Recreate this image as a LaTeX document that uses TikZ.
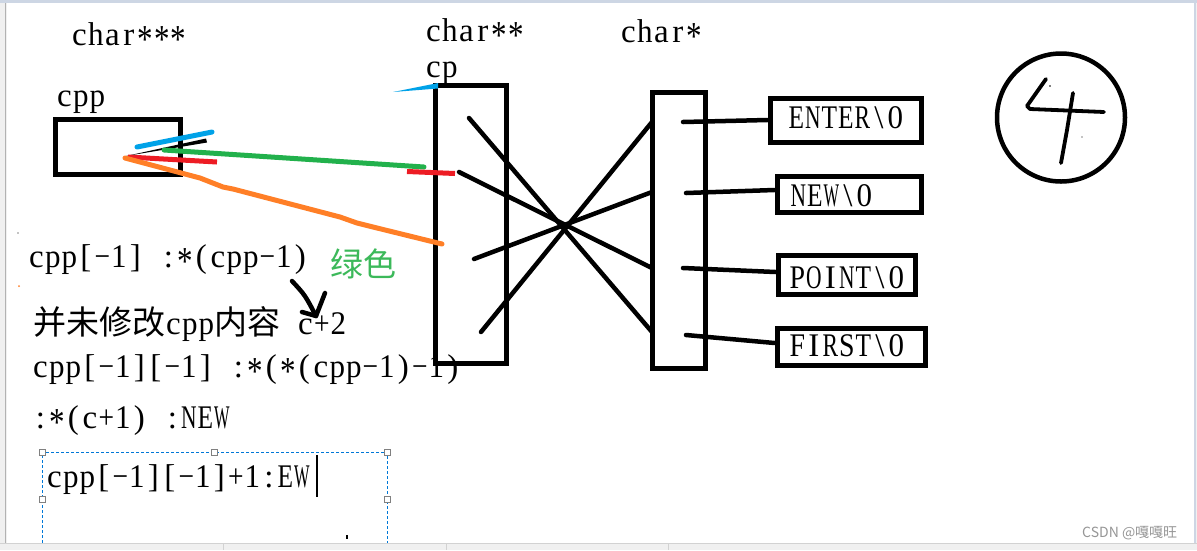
\documentclass[tikz,border=0pt]{standalone}
\usepackage{fontspec}
\usepackage{graphicx}
\setmainfont{Liberation Serif}
\newfontfamily\cjk{Noto Sans CJK SC}
\newsavebox\glyphbox
\newcommand\onech[1]{\sbox\glyphbox{#1}\makebox[0.5em][c]{\ifdim\wd\glyphbox>0.47em\relax\resizebox{0.47em}{\height}{#1}\else#1\fi}}
\def\monoloop#1{\ifx\relax#1\else\onech{#1}\expandafter\monoloop\fi}
\newcommand\mono[1]{\monoloop#1\relax}
\newcommand\astk{\raisebox{-0.22em}{\scalebox{1.2}{*}}}
\newcommand\bigtxt{\fontsize{33}{40}\selectfont}
\definecolor{pgreen}{RGB}{34,177,76}
\definecolor{pred}{RGB}{237,28,36}
\definecolor{porange}{RGB}{255,127,39}
\definecolor{pblue}{RGB}{0,162,232}
\definecolor{txtgreen}{RGB}{60,185,90}
\definecolor{selblue}{RGB}{0,120,215}
\definecolor{chrome}{RGB}{240,240,240}
\definecolor{frameblue}{RGB}{205,214,228}
\definecolor{wmgray}{RGB}{150,150,150}
\tikzset{
  lbl/.style={inner sep=0pt, anchor=base west, font=\bigtxt},
  box/.style={draw, line width=5pt, rectangle, inner sep=0pt},
  stroke/.style={line width=4.5pt, line cap=round, line join=round},
  cstroke/.style={line width=5pt, line cap=round, line join=round},
  handle/.style={draw=gray, fill=white, line width=0.8pt, minimum size=6pt, inner sep=0pt, rectangle},
}
\begin{document}
\begin{tikzpicture}[x=1pt,y=-1pt]
\useasboundingbox (0,0) rectangle (1197,550);
% window chrome
\fill[chrome] (0,0) rectangle (1197,550);
\fill[white] (7,3) rectangle (1194,543);
\fill[frameblue] (0,0) rectangle (1197,3);
\draw[gray!60, line width=1.2pt] (5.5,3) -- (5.5,543);
\draw[frameblue, line width=2pt] (1195,3) -- (1195,543);
\draw[gray!35, line width=1pt] (0,543.5) -- (1197,543.5);
\foreach \xx in {223,446,668} \draw[gray!35, line width=1pt] (\xx,544) -- (\xx,550);

% labels at top
\node[lbl] (t3) at (71,45) {\mono{char{\astk}{\astk}{\astk}}};
\node[lbl] (tcpp) at (56,106) {\mono{cpp}};
\node[lbl] (t2) at (425,41) {\mono{char{\astk}{\astk}}};
\node[lbl] (tcp) at (425,77) {\mono{cp}};
\node[lbl] (t1) at (620,42) {\mono{char{\astk}}};

% boxes
\node[box, minimum width=125pt, minimum height=55pt] (cppbox) at (117.5,146.5) {};
\node[box, minimum width=70.5pt, minimum height=278pt] (cpbox) at (470.75,224.5) {};
\node[box, minimum width=53pt, minimum height=276pt] (csbox) at (678.5,230) {};
\node[box, minimum width=151pt, minimum height=44pt] (enter) at (845.5,120) {};
\node[box, minimum width=144pt, minimum height=36pt] (new) at (849,194) {};
\node[box, minimum width=137pt, minimum height=39pt] (point) at (846.5,274.5) {};
\node[box, minimum width=148pt, minimum height=37pt] (first) at (851,346.5) {};

\node[lbl] (enterT) at (788,128) {\mono{ENTER{\textbackslash}0}};
\node[lbl] (newT) at (790,206) {\mono{NEW{\textbackslash}0}};
\node[lbl] (pointT) at (789,288) {\mono{POINT{\textbackslash}0}};
\node[lbl] (firstT) at (789,356) {\mono{FIRST{\textbackslash}0}};

% pointers from char* array to strings
\coordinate (s1) at (683,122);
\coordinate (s2) at (686,193);
\coordinate (s3) at (683,268);
\coordinate (s4) at (686,335);
\draw[stroke] (s1) -- (enter.west);
\draw[stroke] (s2) -- ([yshift=4pt]new.west);
\draw[stroke] (s3) -- ([yshift=2.5pt]point.west);
\draw[stroke] (s4) -- ([yshift=3.5pt]first.west);

% crossing lines from char** array to char* array
\coordinate (a1) at (469,118);
\coordinate (a2) at (459,172);
\coordinate (a3) at (474,259);
\coordinate (a4) at (481,332);
\coordinate (b1) at (652,332);
\coordinate (b2) at (652,268);
\coordinate (b3) at (652,192);
\coordinate (b4) at (652,122);
\draw[stroke] (a1) -- (b1);
\draw[stroke] (a2) -- (b2);
\draw[stroke] (a3) -- (b3);
\draw[stroke] (a4) -- (b4);

% coloured hand strokes
\coordinate (o) at (126,156);
\coordinate (bl1) at (137,147);
\coordinate (bl2) at (212,132);
\draw[cstroke, pblue] (bl1) -- (bl2);
\fill[black] (o) -- (206,138.5) -- (207,142.5) -- cycle;
\coordinate (g1) at (164,150);
\coordinate (g2) at (424,167);
\draw[cstroke, pgreen] (g1) -- (g2);
\coordinate (r1) at (128,157);
\coordinate (r2) at (217,162);
\draw[cstroke, pred, line cap=butt] (r1) -- (r2);
\coordinate (r3) at (407,171.5);
\coordinate (r4) at (455,173.5);
\draw[cstroke, pred, line cap=butt] (r3) -- (r4);
\coordinate (or1) at (125,158);
\coordinate (or2) at (442,244);
\draw[cstroke, porange] (or1) -- (200,178) -- (223,187) -- (233,189) -- (340,217) -- (357,223) -- (373,227) -- (or2);
\coordinate (bw1) at (393,92);
\coordinate (bw2) at (438,83);
\fill[pblue] (bw1) -- (bw2) -- (438,88.5) -- cycle;

% circled 4
\node[circle, draw, line width=4.5pt, minimum size=128pt, inner sep=0pt] (four) at (1061,117.5) {};
\coordinate (f1) at (1046,79);
\coordinate (f2) at (1104,112);
\draw[stroke, line width=3.8pt] (f1) -- (1027,106) -- (1030,109) -- (f2);
\coordinate (k1) at (1073,93);
\coordinate (k2) at (1061,163);
\draw[stroke, line width=3.8pt] (k1) -- (1067,130) -- (k2);
\fill (1050,86) circle (0.8pt);
\fill (1082,137) circle (0.6pt);

% explanatory text
\node[lbl] (l1) at (28,267) {\mono{cpp[−1]~:{\astk}(cpp−1)}};
\node[lbl, text=txtgreen] (green) at (330,276) {\cjk 绿色};
\node[lbl] (l2) at (33,334) {{\cjk 并未修改}\mono{cpp}{\cjk 内容}\mono{~c+2}};
\node[lbl] (l3) at (32,377) {\mono{cpp[−1][−1]~:{\astk}({\astk}(cpp−1)−1)}};
\node[lbl] (l4) at (32,428) {\mono{:{\astk}(c+1)~:NEW}};

% hand-drawn arrow
\coordinate (ar1) at (292,281);
\coordinate (ar2) at (316,316);
\draw[stroke] (ar1) .. controls (305,295) .. (ar2);
\draw[stroke] (302,312) -- (ar2) -- (325,293);

% tiny marks
\fill[porange] (19,286) circle (1pt);
\fill[black] (18,233) circle (0.7pt);

% selection box
\coordinate (sa) at (42,543);
\coordinate (sb) at (42,452);
\coordinate (sc) at (387,452);
\coordinate (sd) at (387,543);
\draw[selblue, line width=0.9pt, dash pattern=on 3pt off 2pt] (sa) -- (sb) -- (sc) -- (sd);
\node[handle] (h1) at (42,452) {};
\node[handle] (h2) at (214.5,452) {};
\node[handle] (h3) at (387,452) {};
\node[handle] (h4) at (42,499) {};
\node[handle] (h5) at (387,499) {};
\node[lbl] (l5) at (46,487) {\mono{cpp[−1][−1]+1:EW}};
\coordinate (cu1) at (317,455);
\coordinate (cu2) at (317,497);
\draw[line width=1.4pt] (cu1) -- (cu2);
\fill (346,535) rectangle (348,539);

% watermark
\node[inner sep=0pt, anchor=base west, text=wmgray, font=\cjk\fontsize{14}{16}\selectfont] (wm) at (1082,537) {CSDN @嘎嘎旺};
\end{tikzpicture}
\end{document}
